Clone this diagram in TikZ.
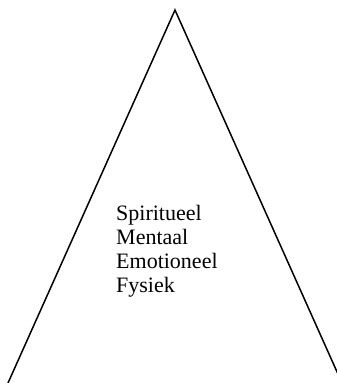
\documentclass[tikz,border=0pt]{standalone}
\usepackage{fontspec}
\setmainfont{Liberation Serif}
\begin{document}
\begin{tikzpicture}[x=1pt,y=-1pt,
  edge/.style={draw=black,line width=1.5pt},
  label/.style={align=left,inner sep=0pt,anchor=north west,font=\fontsize{22}{24}\selectfont}]
\useasboundingbox (0,0) rectangle (337,383);
\clip (0,0) rectangle (337,383);
\coordinate (apex) at (175,10);
\coordinate (bl) at (8,383);
\coordinate (br) at (342,383);
\draw[edge] (bl) -- (apex) -- (br);
\node[label] (txt) at (116,205) {Spiritueel\\Mentaal\\Emotioneel\\Fysiek};
\end{tikzpicture}
\end{document}
